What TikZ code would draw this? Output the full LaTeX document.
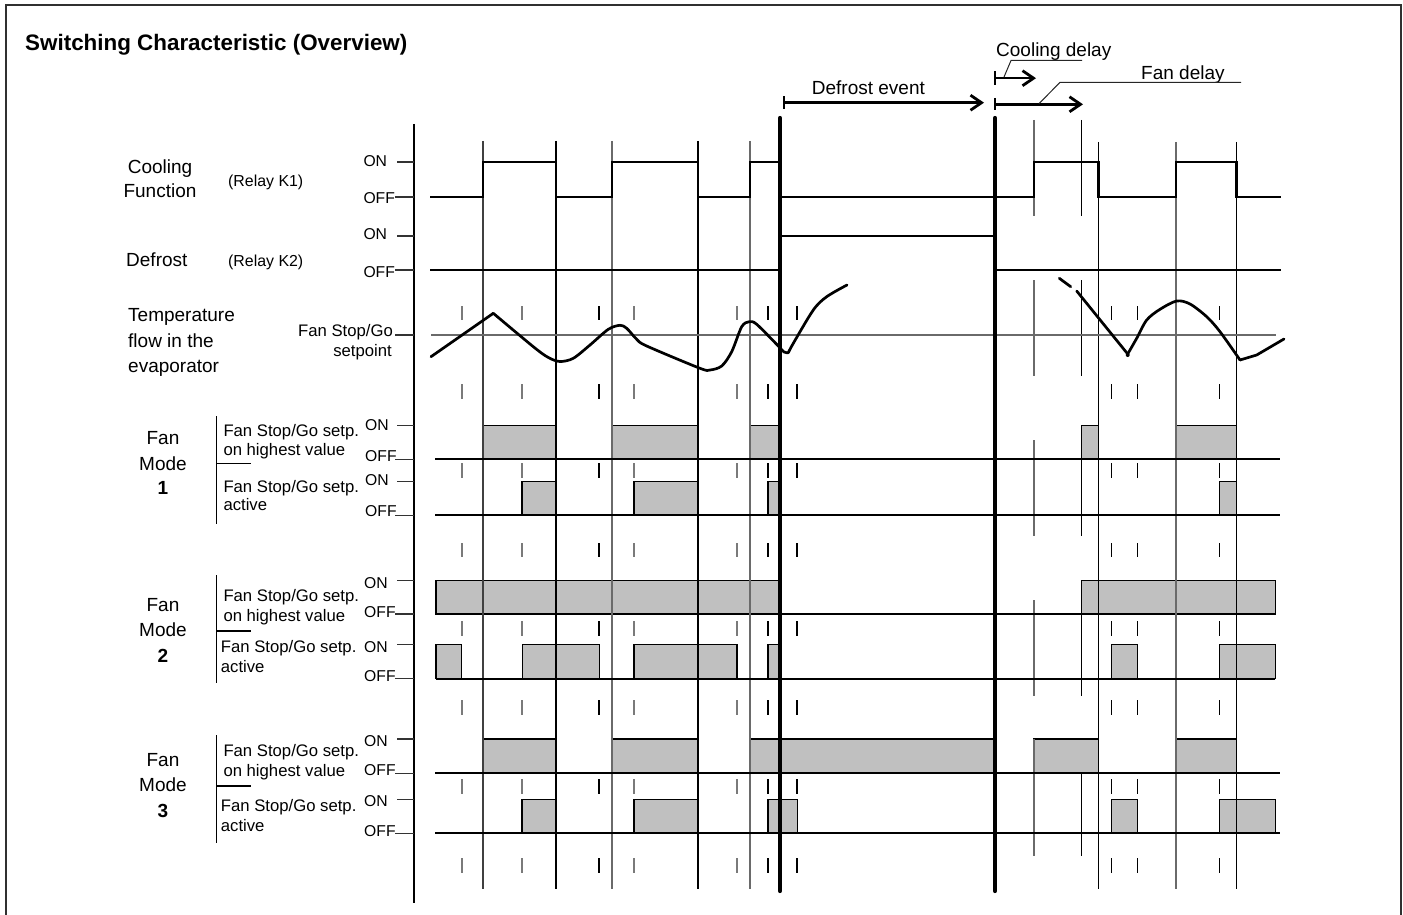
\documentclass[tikz,border=0pt]{standalone}
\usepackage{fontspec}
\setmainfont{Liberation Sans}
\usetikzlibrary{arrows.meta}
\definecolor{boxgray}{HTML}{C0C0C0}
\definecolor{gridgray}{HTML}{6A6A6A}
\definecolor{tickgray}{HTML}{7A7A7A}
\definecolor{framec}{HTML}{303030}
\begin{document}
\begin{tikzpicture}[x=1pt,y=-1pt,
  sig/.style={line width=2.6pt, line join=miter, line cap=rect},
  fsig/.style={line width=2.3pt},
  fbox/.style={fill=boxgray, draw=black, line width=1.5pt},
  gline/.style={line width=1.2pt, draw=gridgray},
  bline/.style={line width=1.2pt, draw=black},
  dline/.style={line width=4.2pt, line cap=round},
  axtick/.style={line width=1.1pt, draw=black!80},
  curve/.style={line width=2.7pt, line join=round, line cap=round},
  lbl/.style={inner sep=0pt, font=\fontsize{19}{22}\selectfont},
  mid/.style={inner sep=0pt, font=\fontsize{16.7}{19}\selectfont},
  onoff/.style={inner sep=0pt, font=\fontsize{15.7}{18}\selectfont},
  arr/.style={line width=2.6pt, -{Straight Barb[length=11pt,width=15pt,line width=2.8pt]}},
  leader/.style={line width=1pt, draw=black!85}
]
\useasboundingbox (0,0) rectangle (1403,915);
% frame
\draw[framec, line width=2pt] (6,915) -- (6,5) -- (1401,5) -- (1401,915);
% title
\node[anchor=base west, inner sep=0pt, font=\fontsize{22.4}{26}\selectfont\bfseries] (title) at (25,50.5) {Switching Characteristic (Overview)};

% ---- shaded boxes (drawn first) ----
\foreach \a/\b in {483/556,612/698,750/780,1081.7/1098.3,1176/1236.3}
  \draw[fbox] (\a,459.3) rectangle (\b,425.5);
\foreach \a/\b in {522/556,634/698,768/780,1219.3/1236.3}
  \draw[fbox] (\a,515.3) rectangle (\b,481.3);
\foreach \a/\b in {436/780,1081.7/1275.3}
  \draw[fbox] (\a,614) rectangle (\b,580.3);
\foreach \a/\b in {436/461.7,522.3/599.3,634/737,768/780,1111.7/1137.3,1219.3/1275.3}
  \draw[fbox] (\a,678.7) rectangle (\b,644.7);
\foreach \a/\b in {483/556,612/698,750/995,1034/1098.3,1176/1236.3}
  \draw[fbox] (\a,773.3) rectangle (\b,739);
\foreach \a/\b in {522/556,634/698,768/797.3,1111.7/1137.3,1219.3/1275.3}
  \draw[fbox] (\a,833.3) rectangle (\b,799.3);

% ---- vertical grid lines ----
\draw[line width=1.2pt] (414,124) -- (414,903);
\foreach \x/\c in {483/black!75,556/black,612/gridgray,698/black,750/gridgray}
  \draw[line width=1.2pt, draw=\c] (\x,141) -- (\x,889);
\foreach \x/\c in {1098.5/black,1176/gridgray,1236.3/black}
  \draw[line width=1.2pt, draw=\c] (\x,142) -- (\x,889);
\foreach \ya/\yb in {120/216,280/376,440/536,600/696,739/856}
  \draw[gline] (1034,\ya) -- (1034,\yb);
\foreach \ya/\yb in {120/216,280/376,459/536,614/696,774/856}
  \draw[bline] (1081.7,\ya) -- (1081.7,\yb);

% ---- short tick marks ----
\foreach \x/\c in {462/tickgray,522/tickgray,599/black,634/tickgray,737/tickgray,768/black,797/black,1111.7/black,1137.3/black,1219.3/black}
  \foreach \ya/\yb in {306/320,384/399,463/478,543/557,621/636,700/715,779/794,858/873}
    \draw[line width=1.1pt, draw=\c] (\x,\ya) -- (\x,\yb);

% ---- setpoint line ----
\draw[line width=1.3pt, draw=gridgray] (431,335) -- (1276,335);

% ---- axis ticks ----
\foreach \y in {162,236,425.5,481.3,580.3,644.7,739,799.3}
  \draw[axtick] (397,\y) -- (414,\y);
\foreach \y in {197,270,335,459.3,515.3,614,678.7,773.3,833.3}
  \draw[axtick] (395,\y) -- (414,\y);

% ---- cooling and defrost signals ----
\draw[sig] (431,197) -- (483,197) -- (483,162) -- (556,162) -- (556,197) -- (612,197) -- (612,162) -- (698,162) -- (698,197) -- (750,197) -- (750,162) -- (780,162);
\draw[sig] (780,197) -- (1034,197) -- (1034,162) -- (1098.5,162) -- (1098.5,197) -- (1176,197) -- (1176,162) -- (1236.3,162) -- (1236.3,197) -- (1280,197);
\draw[sig] (431,270) -- (780,270);
\draw[sig] (780,236) -- (995,236);
\draw[sig] (995,270) -- (1280,270);

% ---- fan mode baselines ----
\draw[fsig] (435,459.3) -- (1280,459.3);
\draw[fsig] (435,515.3) -- (1280,515.3);
\draw[fsig] (780,614) -- (1081.7,614);
\draw[fsig] (436,678.7) -- (1275.3,678.7);
\draw[fsig] (435,773.3) -- (1280,773.3);
\draw[fsig] (435,833.3) -- (1280,833.3);

% ---- temperature curve ----
\draw[curve] (431,356.7) -- (493.3,313.3);
\draw[curve] plot[smooth, tension=0.5] coordinates {(493.3,313.3) (533.3,346.7) (548.3,357.5) (560,361.5) (573.3,358.3) (590,345) (608.3,329.3) (620,325.3) (626.7,328.3) (636.7,339.3) (646.7,346) (700,368.3) (710,370) (721.7,366) (731.7,351.7) (741.7,326.7) (749.3,321.7) (756.7,324.3) (778.3,346) (784,352) (788.3,352.7)};
\draw[curve] plot[smooth, tension=0.5] coordinates {(788.3,352.7) (793.3,343.3) (813.3,310) (826.7,296.7) (847,285)};
\draw[curve] (1059.3,278.3) -- (1070.7,286.7);
\draw[curve] (1076.7,291) -- (1127.7,354);
\draw[curve] plot[smooth, tension=0.5] coordinates {(1127.7,354) (1136.7,338.3) (1146.7,320) (1160,309.3) (1176.7,301) (1190,304) (1206.7,316.7) (1220,331.7) (1240,360)};
\draw[curve] (1240,360) -- (1256.7,355) -- (1284,339);
\fill (1127.7,355) circle (2pt);

% ---- defrost thick lines ----
\draw[dline] (780,118) -- (780,891);
\draw[dline] (995,118) -- (995,891);

% ---- top arrows ----
\coordinate (de0) at (784,102.7);
\coordinate (de1) at (984,102.7);
\coordinate (cd0) at (995,78.2);
\coordinate (cd1) at (1036,78.2);
\coordinate (fd0) at (995,104.3);
\coordinate (fd1) at (1083,104.3);
\draw[line width=2.6pt] (784,96.5) -- (784,108.8);
\draw[line width=2.6pt] (995,71.4) -- (995,85);
\draw[line width=2.6pt] (995,98) -- (995,110.5);
\draw[arr] (de0) -- (de1);
\draw[arr] (cd0) -- (cd1);
\draw[arr] (fd0) -- (fd1);
\node[lbl, anchor=base west] (defev) at (811.7,94.5) {Defrost event};
\node[lbl, anchor=base west] (cooldel) at (996,56.1) {Cooling delay};
\node[lbl, anchor=base west] (fandel) at (1141,79.3) {Fan delay};
\coordinate (cdl) at (1004,77);
\coordinate (fdl) at (1039,103.7);
\draw[leader] (cdl) -- (1011,60.5) -- (1082,60.5);
\draw[leader] (fdl) -- (1060,82.3) -- (1241,82.3);

% ---- left labels ----
\node[lbl, anchor=base] (cool1) at (160,173.3) {Cooling};
\node[lbl, anchor=base] (cool2) at (160,197.3) {Function};
\node[mid, font=\fontsize{15.9}{18}\selectfont, anchor=base west] (rk1) at (228,186.7) {(Relay K1)};
\node[lbl, anchor=base west] (defr) at (126,266) {Defrost};
\node[mid, font=\fontsize{15.9}{18}\selectfont, anchor=base west] (rk2) at (228,266.7) {(Relay K2)};
\node[onoff, anchor=base west] (on1) at (363.3,166.7) {ON};
\node[onoff, anchor=base west] (off1) at (363.3,204) {OFF};
\node[onoff, anchor=base west] (on2) at (363.3,239.3) {ON};
\node[onoff, anchor=base west] (off2) at (363.3,277.3) {OFF};

\node[lbl, anchor=base west] (temp1) at (128,321.7) {Temperature};
\node[lbl, anchor=base west] (temp2) at (128,347.3) {flow in the};
\node[lbl, anchor=base west] (temp3) at (128,372.7) {evaporator};
\node[mid, anchor=base east] (sp1) at (393,336.7) {Fan Stop/Go};
\node[mid, anchor=base east] (sp2) at (392,356) {setpoint};

% Fan mode 1
\node[lbl, anchor=base] (fm1a) at (163,444.3) {Fan};
\node[lbl, anchor=base] (fm1b) at (163,470) {Mode};
\node[lbl, anchor=base, font=\fontsize{19}{22}\selectfont\bfseries] (fm1c) at (163,494) {1};
\draw[line width=1.3pt] (216.7,416) -- (216.7,524);
\draw[line width=1.3pt] (216.7,463.7) -- (251,463.7);
\node[mid, anchor=base west] (fm1t1) at (223.3,436.7) {Fan Stop/Go setp.};
\node[mid, anchor=base west] (fm1t2) at (223.3,455) {on highest value};
\node[mid, anchor=base west] (fm1t3) at (223.3,492) {Fan Stop/Go setp.};
\node[mid, anchor=base west] (fm1t4) at (223.3,510.7) {active};
\node[onoff, anchor=base west] (fm1on1) at (365,430) {ON};
\node[onoff, anchor=base west] (fm1off1) at (365,461) {OFF};
\node[onoff, anchor=base west] (fm1on2) at (365,485) {ON};
\node[onoff, anchor=base west] (fm1off2) at (365,516.7) {OFF};

% Fan mode 2
\node[lbl, anchor=base] (fm2a) at (163,611.7) {Fan};
\node[lbl, anchor=base] (fm2b) at (163,636.7) {Mode};
\node[lbl, anchor=base, font=\fontsize{19}{22}\selectfont\bfseries] (fm2c) at (163,662.7) {2};
\draw[line width=1.3pt] (216.7,575) -- (216.7,683.3);
\draw[line width=1.3pt] (216.7,631) -- (251,631);
\node[mid, anchor=base west] (fm2t1) at (223.3,601.7) {Fan Stop/Go setp.};
\node[mid, anchor=base west] (fm2t2) at (223.3,621) {on highest value};
\node[mid, anchor=base west] (fm2t3) at (220.7,652.7) {Fan Stop/Go setp.};
\node[mid, anchor=base west] (fm2t4) at (220.7,672.7) {active};
\node[onoff, anchor=base west] (fm2on1) at (364,588.3) {ON};
\node[onoff, anchor=base west] (fm2off1) at (364,617.3) {OFF};
\node[onoff, anchor=base west] (fm2on2) at (364,652.7) {ON};
\node[onoff, anchor=base west] (fm2off2) at (364,681.3) {OFF};

% Fan mode 3
\node[lbl, anchor=base] (fm3a) at (163,766.7) {Fan};
\node[lbl, anchor=base] (fm3b) at (163,791.7) {Mode};
\node[lbl, anchor=base, font=\fontsize{19}{22}\selectfont\bfseries] (fm3c) at (163,817.3) {3};
\draw[line width=1.3pt] (216.7,735) -- (216.7,842.7);
\draw[line width=1.3pt] (216.7,786) -- (251,786);
\node[mid, anchor=base west] (fm3t1) at (223.3,756.7) {Fan Stop/Go setp.};
\node[mid, anchor=base west] (fm3t2) at (223.3,776) {on highest value};
\node[mid, anchor=base west] (fm3t3) at (220.7,811.7) {Fan Stop/Go setp.};
\node[mid, anchor=base west] (fm3t4) at (220.7,831.7) {active};
\node[onoff, anchor=base west] (fm3on1) at (364,746.7) {ON};
\node[onoff, anchor=base west] (fm3off1) at (364,775) {OFF};
\node[onoff, anchor=base west] (fm3on2) at (364,806.7) {ON};
\node[onoff, anchor=base west] (fm3off2) at (364,836) {OFF};
\end{tikzpicture}
\end{document}
